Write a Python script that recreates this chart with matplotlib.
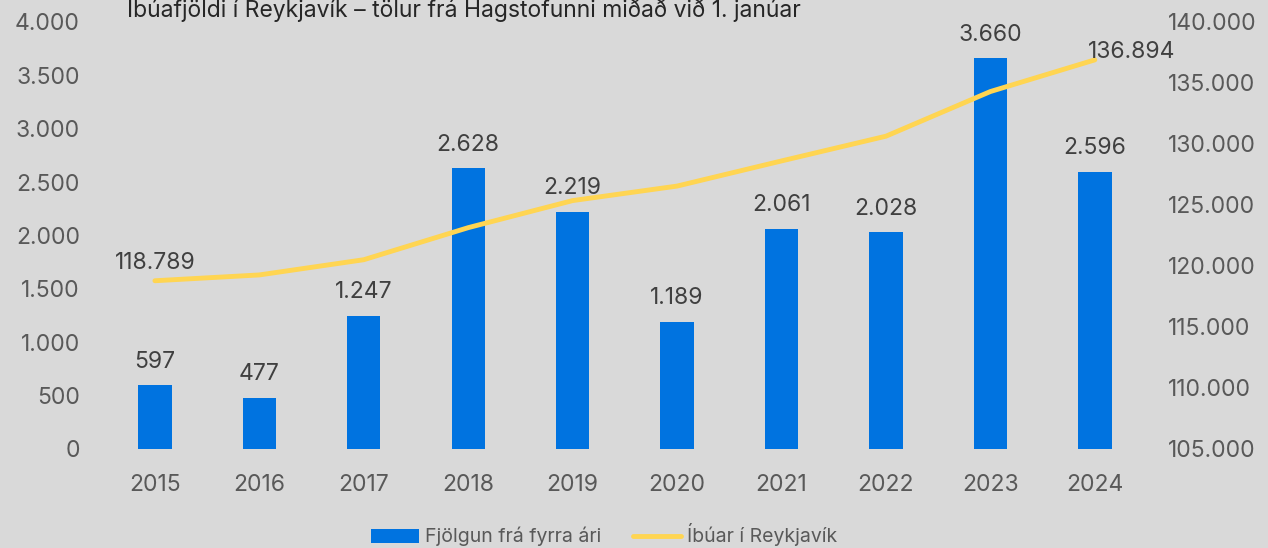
import matplotlib.pyplot as plt
from matplotlib.ticker import FuncFormatter

plt.rcParams['font.family'] = ['Inter', 'DejaVu Sans']

years = ['2015', '2016', '2017', '2018', '2019', '2020', '2021', '2022', '2023', '2024']
fjolgun = [597, 477, 1247, 2628, 2219, 1189, 2061, 2028, 3660, 2596]
ibuar = [118789, 119266, 120513, 123141, 125360, 126549, 128610, 130638, 134298, 136894]

bg = '#d9d9d9'
blue = '#0073e0'
yellow = '#ffd552'
grey = '#595959'
dark = '#404040'


def dot(v, pos=None):
    return f'{int(v):,}'.replace(',', '.')


fig = plt.figure(figsize=(12.68, 5.48), dpi=100, facecolor=bg)
ax = fig.add_axes([0.081, 0.1807, 0.8236, 0.7792], facecolor=bg)
ax2 = ax.twinx()

x = list(range(len(years)))
ax.bar(x, fjolgun, width=0.32, color=blue, zorder=2, label='Fjölgun frá fyrra ári')
for xi, v in zip(x, fjolgun):
    ax.annotate(dot(v), (xi, v), xytext=(0, 17), textcoords='offset points',
                ha='center', va='center', fontsize=16.5, color=dark)

ax2.plot(x, ibuar, color=yellow, lw=3.5, solid_capstyle='round', zorder=3,
         label='Íbúar í Reykjavík')
ax2.annotate(dot(ibuar[0]), (x[0], ibuar[0]), xytext=(0, 13), textcoords='offset points',
             ha='center', va='center', fontsize=16.5, color=dark)
ax2.annotate(dot(ibuar[-1]), (x[-1], ibuar[-1]), xytext=(-5, 6), textcoords='offset points',
             ha='left', va='center', fontsize=16.5, color=dark)

# bars behind line
ax.set_zorder(1)
ax2.set_zorder(2)
ax2.patch.set_visible(False)

ax.set_xlim(-0.5, len(years) - 0.5)
ax.set_ylim(0, 4000)
ax.set_yticks(range(0, 4001, 500))
ax.yaxis.set_major_formatter(FuncFormatter(dot))
ax2.set_ylim(105000, 140000)
ax2.set_yticks(range(105000, 140001, 5000))
ax2.yaxis.set_major_formatter(FuncFormatter(dot))
ax.set_xticks(x)
ax.set_xticklabels(years)

ax.tick_params(axis='y', length=0, pad=16.5, labelsize=16.5, labelcolor=grey)
ax.tick_params(axis='x', length=0, pad=18, labelsize=16.5, labelcolor=grey)
ax2.tick_params(axis='y', length=0, pad=15, labelsize=16.5, labelcolor=grey)
for a in (ax, ax2):
    for s in a.spines.values():
        s.set_visible(False)

fig.text(0.1, 1 - 9 / 548, 'Íbúafjöldi í Reykjavík – tölur frá Hagstofunni miðað við 1. janúar',
         ha='left', va='center', fontsize=16.5, color='#262626')

h1, l1 = ax.get_legend_handles_labels()
h2, l2 = ax2.get_legend_handles_labels()
fig.legend(h1 + h2, l1 + l2, loc='center', bbox_to_anchor=(604 / 1268, 1 - 535 / 548),
           ncol=2, frameon=False, fontsize=14, labelcolor=grey,
           handlelength=2.5, handletextpad=0.3, columnspacing=1.6)

fig.savefig('out.png', dpi=100, facecolor=bg)
